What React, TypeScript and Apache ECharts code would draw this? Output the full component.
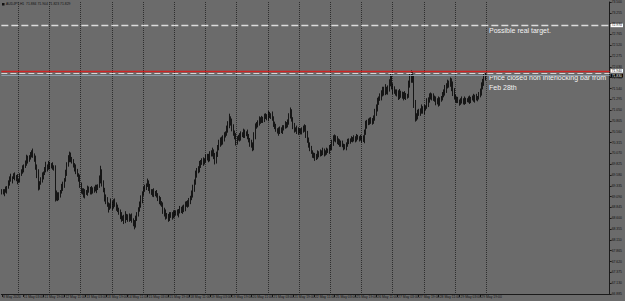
import { useEffect, useRef } from 'react';
import * as echarts from 'echarts';

// ---- DATA ----
const tradingDays = ['8 May', '11 May', '12 May', '13 May', '14 May', '15 May', '18 May', '19 May',
  '20 May', '21 May', '22 May', '25 May', '26 May', '27 May', '28 May', '29 May'];
const FIRST_HOUR = 11;
const NEXT_DAY = '1 Jun';
const FIRST_LABEL = '8 May 2020';
const FIRST_OPEN = 69.22;

const closes = [
  69.20, 69.18, 69.24, 69.22, 69.29, 69.40, 69.51, 69.47, 69.53, 69.56,
  69.50, 69.54, 69.45, 69.47, 69.58, 69.65, 69.70, 69.78, 69.85, 69.96,
  69.92, 69.99, 70.02, 70.08, 70.03, 69.96, 69.80, 69.63, 69.31, 69.40,
  69.47, 69.56, 69.62, 69.70, 69.78, 69.74, 69.82, 69.77, 69.81, 69.76,
  69.74, 69.08, 69.15, 69.05, 69.13, 69.20, 69.28, 69.37, 69.47, 69.62,
  69.81, 69.93, 70.03, 69.95, 69.88, 69.81, 69.74, 69.66, 69.58, 69.51,
  69.35, 69.24, 69.18, 69.13, 69.20, 69.17, 69.26, 69.22, 69.27, 69.20,
  69.24, 69.28, 69.25, 69.30, 69.33, 69.45, 69.63, 69.40, 69.25, 69.08,
  69.00, 68.92, 68.83, 68.88, 68.95, 68.86, 68.97, 68.92, 68.85, 68.80,
  68.74, 68.66, 68.58, 68.62, 68.55, 68.66, 68.60, 68.63, 68.58, 68.65,
  68.56, 68.50, 68.45, 68.58, 68.70, 68.79, 68.90, 69.02, 69.15, 69.24,
  69.30, 69.35, 69.40, 69.30, 69.22, 69.17, 69.20, 69.14, 69.18, 69.13,
  69.05, 69.00, 68.95, 68.90, 68.80, 68.72, 68.63, 68.66, 68.60, 68.68,
  68.65, 68.70, 68.66, 68.72, 68.74, 68.70, 68.77, 68.80, 68.76, 68.85,
  68.82, 68.90, 68.95, 68.90, 68.98, 69.05, 69.13, 69.28, 69.42, 69.58,
  69.66, 69.72, 69.80, 69.88, 69.85, 69.92, 69.90, 69.97, 70.00, 69.95,
  70.04, 70.08, 70.10, 70.00, 69.92, 70.05, 70.18, 70.28, 70.37, 70.33,
  70.42, 70.47, 70.53, 70.62, 70.70, 70.85, 70.78, 70.67, 70.55, 70.45,
  70.33, 70.40, 70.45, 70.42, 70.51, 70.48, 70.55, 70.50, 70.53, 70.45,
  70.38, 70.30, 70.26, 70.22, 70.45, 70.67, 70.72, 70.78, 70.83, 70.80,
  70.86, 70.84, 70.89, 70.92, 70.88, 70.95, 70.91, 70.94, 70.85, 70.75,
  70.68, 70.60, 70.58, 70.55, 70.62, 70.59, 70.65, 70.67, 70.72, 70.70,
  70.78, 70.90, 71.01, 70.85, 70.70, 70.60, 70.62, 70.57, 70.60, 70.56,
  70.58, 70.62, 70.60, 70.67, 70.50, 70.37, 70.28, 70.18, 70.10, 70.03,
  70.00, 69.96, 70.02, 70.08, 70.04, 70.10, 70.07, 70.12, 70.08, 70.10,
  70.14, 70.12, 70.18, 70.22, 70.30, 70.38, 70.44, 70.38, 70.32, 70.35,
  70.30, 70.28, 70.25, 70.20, 70.22, 70.28, 70.32, 70.35, 70.37, 70.40,
  70.38, 70.42, 70.40, 70.43, 70.42, 70.40, 70.43, 70.39, 70.40, 70.55,
  70.71, 70.75, 70.80, 70.78, 70.83, 70.80, 70.85, 70.98, 71.10, 71.23,
  71.30, 71.35, 71.42, 71.48, 71.52, 71.47, 71.50, 71.55, 71.65, 71.73,
  71.60, 71.51, 71.48, 71.46, 71.42, 71.38, 71.43, 71.39, 71.35, 71.40,
  71.36, 71.38, 71.37, 71.62, 71.75, 71.85, 71.73, 71.20, 70.87, 70.92,
  70.98, 71.02, 71.05, 71.08, 71.03, 71.10, 71.12, 71.20, 71.28, 71.35,
  71.39, 71.35, 71.32, 71.28, 71.24, 71.26, 71.21, 71.28, 71.33, 71.38,
  71.44, 71.52, 71.60, 71.66, 71.64, 71.69, 71.58, 71.45, 71.35, 71.30,
  71.27, 71.25, 71.23, 71.26, 71.24, 71.28, 71.25, 71.27, 71.28, 71.30,
  71.27, 71.31, 71.32, 71.30, 71.34, 71.31, 71.33, 71.40, 71.46, 71.58,
  71.68, 71.78, 71.83,
];

// wick lengths above / below the body, in units of WICK_UNIT
const WICK_UNIT = 0.02;
const highWick = [
  2, 3, 1, 4, 2, 3, 2, 5, 1, 3, 4, 2, 3, 1, 2, 3, 5, 2, 3, 4,
  3, 2, 4, 3, 5, 2, 3, 1, 4, 2, 3, 4, 2, 3, 5, 2, 4, 3, 2, 3,
  2, 3, 4, 2, 3, 2, 5, 3, 2, 4, 3, 5, 4, 3, 2, 3, 2, 4, 3, 2,
  4, 3, 2, 5, 3, 2, 4, 3, 2, 3, 3, 2, 4, 3, 2, 6, 8, 4, 3, 2,
  3, 4, 2, 3, 5, 2, 3, 4, 2, 3, 2, 3, 4, 2, 3, 5, 2, 3, 4, 2,
  3, 2, 3, 4, 2, 3, 4, 5, 3, 4, 3, 2, 5, 3, 4, 2, 3, 4, 2, 3,
  2, 3, 4, 2, 3, 2, 4, 3, 2, 3, 3, 2, 4, 3, 2, 3, 2, 4, 3, 2,
  3, 4, 2, 3, 4, 3, 5, 4, 3, 5, 4, 3, 5, 2, 4, 3, 2, 4, 3, 3,
  4, 3, 5, 3, 4, 3, 4, 5, 3, 4, 3, 4, 2, 4, 5, 6, 3, 4, 3, 2,
  4, 3, 2, 4, 3, 2, 4, 3, 2, 4, 3, 2, 4, 3, 5, 4, 3, 2, 4, 3,
  3, 2, 4, 3, 2, 4, 3, 2, 4, 3, 2, 3, 2, 4, 3, 2, 3, 2, 4, 3,
  3, 4, 5, 3, 2, 3, 2, 4, 3, 2, 3, 2, 4, 3, 2, 4, 3, 2, 3, 2,
  3, 4, 2, 3, 2, 3, 2, 4, 3, 2, 3, 2, 4, 3, 4, 5, 3, 2, 4, 3,
  2, 3, 4, 2, 3, 2, 4, 3, 2, 3, 2, 3, 2, 4, 3, 2, 3, 2, 4, 3,
  5, 4, 3, 4, 3, 2, 4, 5, 4, 5, 3, 4, 4, 5, 3, 6, 4, 3, 5, 8,
  5, 3, 4, 2, 3, 4, 5, 3, 4, 3, 4, 3, 2, 5, 6, 5, 4, 6, 4, 3,
  4, 3, 2, 5, 3, 4, 2, 6, 3, 4, 3, 2, 4, 3, 4, 3, 5, 3, 2, 4,
  4, 5, 3, 4, 3, 5, 4, 6, 5, 3, 3, 4, 2, 3, 5, 2, 4, 3, 2, 3,
  4, 2, 3, 5, 3, 4, 2, 3, 4, 5, 4, 5, 3,
];
const lowWick = [
  3, 2, 4, 2, 3, 1, 3, 2, 4, 2, 2, 3, 4, 2, 3, 1, 2, 3, 2, 3,
  4, 2, 3, 2, 3, 4, 5, 6, 4, 3, 2, 3, 4, 2, 3, 4, 2, 3, 2, 3,
  3, 5, 4, 3, 2, 3, 2, 3, 4, 2, 3, 2, 3, 4, 2, 3, 4, 3, 2, 4,
  3, 4, 2, 3, 4, 2, 3, 2, 4, 3, 2, 3, 2, 4, 3, 2, 3, 4, 3, 5,
  4, 3, 5, 2, 3, 4, 2, 3, 4, 3, 3, 4, 3, 2, 4, 3, 2, 4, 3, 2,
  3, 4, 5, 3, 2, 3, 2, 3, 4, 2, 2, 3, 2, 4, 3, 2, 4, 3, 2, 3,
  3, 4, 3, 2, 5, 4, 3, 2, 4, 3, 2, 4, 3, 2, 3, 2, 4, 3, 2, 3,
  4, 3, 2, 3, 2, 3, 2, 3, 4, 3, 3, 2, 4, 3, 2, 3, 4, 2, 3, 4,
  3, 2, 4, 3, 5, 4, 3, 2, 3, 4, 3, 4, 2, 3, 4, 3, 4, 5, 4, 3,
  4, 3, 2, 4, 3, 2, 3, 4, 2, 3, 3, 4, 3, 5, 4, 3, 2, 3, 4, 3,
  2, 4, 3, 2, 3, 4, 2, 3, 2, 4, 3, 2, 3, 4, 2, 3, 4, 3, 2, 3,
  2, 3, 2, 3, 4, 3, 2, 3, 4, 2, 3, 4, 3, 2, 4, 3, 4, 3, 2, 3,
  2, 3, 2, 4, 3, 2, 3, 2, 4, 3, 3, 2, 3, 2, 4, 3, 2, 3, 2, 3,
  4, 3, 2, 3, 2, 4, 3, 2, 3, 2, 3, 2, 4, 3, 2, 3, 2, 4, 3, 5,
  3, 4, 2, 3, 2, 4, 3, 2, 3, 4, 3, 2, 4, 3, 5, 4, 3, 5, 4, 3,
  4, 5, 3, 4, 3, 5, 4, 3, 2, 4, 3, 4, 3, 2, 3, 4, 3, 5, 4, 3,
  4, 3, 5, 4, 3, 4, 3, 2, 4, 3, 3, 4, 3, 2, 4, 3, 4, 3, 2, 3,
  2, 3, 4, 3, 4, 3, 5, 4, 3, 4, 3, 2, 4, 3, 2, 3, 4, 3, 2, 3,
  4, 3, 2, 3, 4, 2, 3, 2, 3, 4, 3, 4, 3,
];

// y axis ticks
const Y_MIN = 66.885;
const Y_MAX = 73.5;
const Y_STEP = 0.245;

// horizontal levels
const TARGET_LEVEL = 72.965;
const FEB28_LEVEL = 71.945;
const ASK_LEVEL = 71.891;
const BID_LEVEL = 71.829;

const TITLE = 'AUDJPY,H1  71.884 71.904 71.823 71.829';
const NOTE_TARGET = 'Possible real target.';
const NOTE_CLOSE_1 = 'Price closed non interlocking bar from';
const NOTE_CLOSE_2 = 'Feb 28th';

const TOTAL_SLOTS = 468; // bar slots across the plot (incl. empty right margin)
const LABEL_EVERY = 16;

export default function App() {
  const ref = useRef<HTMLDivElement>(null);
  useEffect(() => {
    const chart = echarts.init(ref.current!, null, { renderer: 'svg' });
    const cats: string[] = [];
    tradingDays.forEach((d, di) => {
      for (let h = di === 0 ? FIRST_HOUR : 0; h < 24; h++) {
        cats.push(`${d} ${String(h).padStart(2, '0')}:00`);
      }
    });
    const nBars = Math.min(cats.length, closes.length);
    cats.length = nBars;
    cats.push(`${NEXT_DAY} 00:00`);
    while (cats.length < TOTAL_SLOTS) cats.push('');

    const ohlc = closes.slice(0, nBars).map((c, i) => {
      const o = i === 0 ? FIRST_OPEN : closes[i - 1];
      const hi = Math.max(o, c) + highWick[i] * WICK_UNIT;
      const lo = Math.min(o, c) - lowWick[i] * WICK_UNIT;
      return [o, c, +lo.toFixed(3), +hi.toFixed(3)];
    });

    const labelInterval = (idx: number) => idx % LABEL_EVERY === 0 && idx < nBars;
    const font = '"Liberation Sans", Arial, sans-serif';
    const tiny = 3.4;

    const boxLabel = (bg: string, fg: string) => ({
      show: true,
      position: 'end',
      distance: 1,
      formatter: (p: any) => Number(p.value).toFixed(3),
      backgroundColor: bg,
      color: fg,
      fontSize: tiny,
      fontFamily: font,
      padding: [0.4, 1, 0.2, 1],
    });

    chart.setOption({
      animation: false,
      backgroundColor: '#6b6b6b',
      grid: { left: 1, right: 13, top: 2, bottom: 7 },
      xAxis: {
        type: 'category',
        data: cats,
        boundaryGap: true,
        axisLine: { show: true, lineStyle: { color: '#1a1a1a', width: 1 } },
        axisTick: {
          show: true,
          interval: labelInterval,
          alignWithLabel: true,
          length: 3,
          lineStyle: { color: '#1a1a1a' },
        },
        axisLabel: {
          show: true,
          interval: labelInterval,
          formatter: (v: string, idx: number) => (idx === 0 ? FIRST_LABEL : v),
          align: 'left',
          margin: 1,
          fontSize: tiny,
          fontFamily: font,
          color: '#111',
          padding: [0, 0, 0, 1],
        },
        splitLine: {
          show: true,
          interval: (_i: number, v: string) => typeof v === 'string' && v.endsWith(' 00:00'),
          lineStyle: { color: '#2e2e2e', type: [1, 1], width: 1 },
        },
      },
      yAxis: {
        type: 'value',
        position: 'right',
        min: Y_MIN,
        max: Y_MAX,
        interval: Y_STEP,
        scale: true,
        axisLine: { show: true, lineStyle: { color: '#1a1a1a' } },
        axisTick: { show: true, length: 2, lineStyle: { color: '#1a1a1a' } },
        axisLabel: {
          show: true,
          showMinLabel: true,
          showMaxLabel: true,
          margin: 2,
          fontSize: tiny,
          fontFamily: font,
          color: '#111',
          formatter: (v: number) => v.toFixed(3),
        },
        splitLine: { show: false },
      },
      series: [
        {
          type: 'candlestick',
          data: ohlc,
          barWidth: 0.8,
          itemStyle: {
            color: '#000',
            color0: '#000',
            borderColor: '#000',
            borderColor0: '#000',
            borderWidth: 0.8,
          },
          markLine: {
            silent: true,
            symbol: 'none',
            data: [
              {
                yAxis: BID_LEVEL,
                lineStyle: { color: '#8c9aa6', type: 'solid', width: 1 },
                label: boxLabel('#000', '#fff'),
              },
              {
                yAxis: ASK_LEVEL,
                lineStyle: { color: '#d6d6d6', type: [6, 3], width: 1 },
                label: { show: false },
              },
              {
                yAxis: FEB28_LEVEL,
                lineStyle: { color: '#cf2424', type: 'solid', width: 1.4 },
                label: boxLabel('#fff', '#111'),
              },
              {
                yAxis: TARGET_LEVEL,
                lineStyle: { color: '#dcdcdc', type: [7, 3], width: 1.3 },
                label: boxLabel('#fff', '#111'),
              },
            ],
          },
        },
      ],
      graphic: [
        { type: 'rect', shape: { x: 2, y: 3, width: 2.5, height: 2.5 }, style: { fill: '#111' } },
        {
          type: 'text',
          left: 6,
          top: 2.2,
          style: { text: TITLE, fill: '#111', font: `${tiny}px ${font}` },
        },
        {
          type: 'text',
          left: 489,
          top: 27,
          style: { text: NOTE_TARGET, fill: '#f2f2f2', font: `7px ${font}` },
        },
        {
          type: 'text',
          left: 489,
          top: 74,
          style: { text: NOTE_CLOSE_1, fill: '#f2f2f2', font: `7px ${font}` },
        },
        {
          type: 'text',
          left: 489,
          top: 84,
          style: { text: NOTE_CLOSE_2, fill: '#f2f2f2', font: `7px ${font}` },
        },
      ],
    });
    return () => chart.dispose();
  }, []);
  return (
    <div
      ref={ref}
      style={{ position: 'fixed', left: 0, top: 0, width: 625, height: 301, background: '#6b6b6b' }}
    />
  );
}
